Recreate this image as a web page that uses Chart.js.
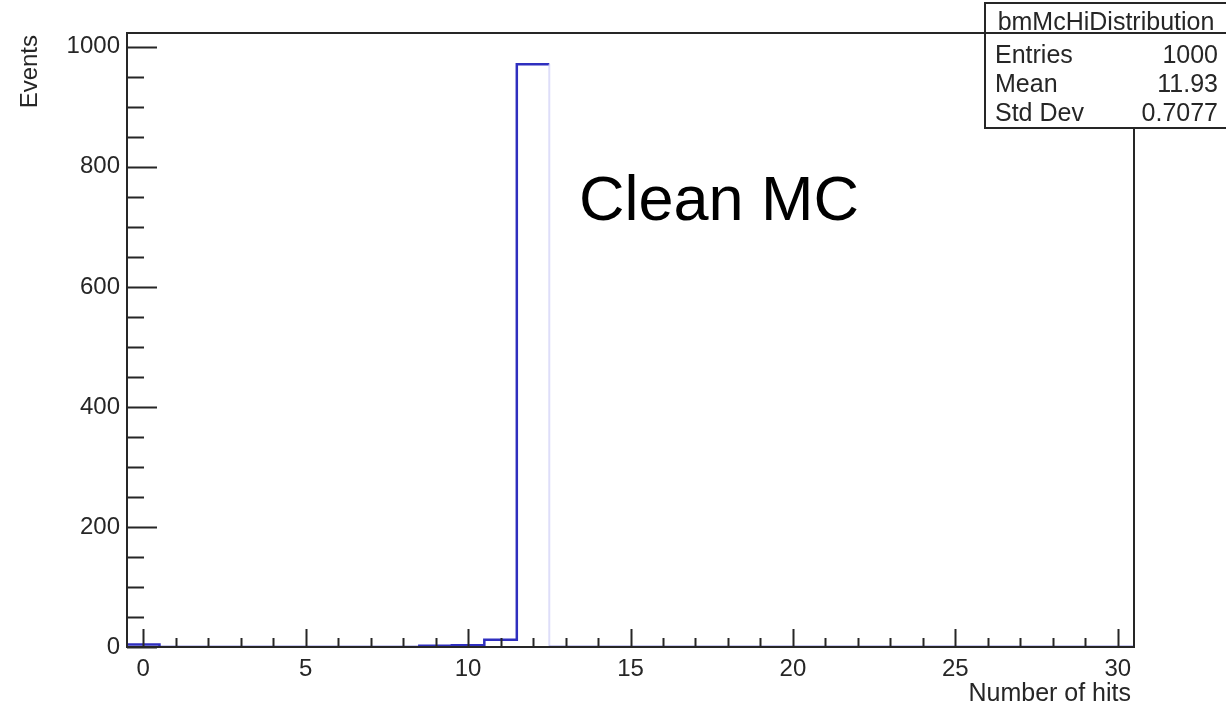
<!DOCTYPE html>
<html>
<head>
<meta charset="utf-8">
<script src="https://cdn.jsdelivr.net/npm/chart.js@4/dist/chart.umd.min.js"></script>
<style>
  html, body { margin: 0; padding: 0; background: #fff; }
  #wrap { width: 1226px; height: 701px; position: relative; }
</style>
</head>
<body>
<div id="wrap"><canvas id="c" width="1226" height="701"></canvas></div>
<script>
// Hit-multiplicity histogram: 31 unit-wide bins centred on 0..30 hits
const binCenters = [0, 1, 2, 3, 4, 5, 6, 7, 8, 9, 10, 11, 12, 13, 14, 15,
                    16, 17, 18, 19, 20, 21, 22, 23, 24, 25, 26, 27, 28, 29, 30];
const binCounts  = [4, 0, 0, 0, 0, 0, 0, 0, 0, 2, 3, 12, 971, 0, 0, 0,
                    0, 0, 0, 0, 0, 0, 0, 0, 0, 0, 0, 0, 0, 0, 0];
const xTickValues = [0, 5, 10, 15, 20, 25, 30];
const yTickValues = [0, 200, 400, 600, 800, 1000];
const yAxisMax = 1023;
const histName = 'bmMcHiDistribution';
const statLabels = ['Entries', 'Mean', 'Std Dev'];
const statValues = ['1000', '11.93', '0.7077'];
const xTitle = 'Number of hits';
const yTitle = 'Events';
const noteText = 'Clean MC';

const FONT = '"Liberation Sans", Arial, Helvetica, sans-serif';
const INK = '#262626';
const LINE_BLUE = '#2f2fbf';

const xMin = binCenters[0] - 0.5;
const xMax = binCenters[binCenters.length - 1] + 0.5;
const peak = Math.max(...binCounts);

// Step outline: each bin contributes its left and right edge at its height
const outline = [];
binCenters.forEach((c, i) => {
  outline.push({ x: c - 0.5, y: binCounts[i] });
  outline.push({ x: c + 0.5, y: binCounts[i] });
});

// true for the falling edge on the right of the tallest bin
const isPeakFall = ctx => ctx.p0.parsed.x === ctx.p1.parsed.x &&
                          ctx.p0.parsed.y === peak && ctx.p1.parsed.y < peak;

const rootStyle = {
  id: 'rootStyle',
  afterDatasetsDraw(chart) {
    const { ctx, chartArea: a, scales: { x, y } } = chart;
    ctx.save();
    ctx.strokeStyle = INK;
    ctx.lineWidth = 2;

    // inward ticks on the x axis: major every 5, minor every 1
    ctx.beginPath();
    for (let v = Math.ceil(xMin); v <= xMax; v += 1) {
      const px = Math.round(x.getPixelForValue(v)) + 0.5;
      const len = xTickValues.includes(v) ? 18 : 9;
      ctx.moveTo(px, a.bottom);
      ctx.lineTo(px, a.bottom - len);
    }
    // inward ticks on the y axis: major every 200, minor every 50
    for (let v = 0; v <= y.max; v += 50) {
      const py = Math.round(y.getPixelForValue(v)) + 0.5;
      const len = yTickValues.includes(v) ? 30 : 17;
      ctx.moveTo(a.left, py);
      ctx.lineTo(a.left + len, py);
    }
    ctx.stroke();

    // frame
    ctx.strokeRect(a.left, a.top, a.right - a.left, a.bottom - a.top);

    // axis titles
    ctx.fillStyle = INK;
    ctx.font = '25px ' + FONT;
    ctx.textBaseline = 'alphabetic';
    ctx.textAlign = 'right';
    ctx.fillText(xTitle, a.right - 3, 701);
    ctx.font = '24px ' + FONT;
    ctx.save();
    ctx.translate(37, a.top + 2);
    ctx.rotate(-Math.PI / 2);
    ctx.textAlign = 'right';
    ctx.fillText(yTitle, 0, 0);
    ctx.restore();

    // annotation
    ctx.fillStyle = '#000';
    ctx.font = '63px ' + FONT;
    ctx.textAlign = 'left';
    ctx.fillText(noteText, 579, 220);

    // statistics box
    const bx = 985, by = 3, bw = 245, bh = 125;
    ctx.fillStyle = '#fff';
    ctx.fillRect(bx, by, bw, bh);
    ctx.strokeStyle = INK;
    ctx.lineWidth = 2;
    ctx.strokeRect(bx, by, bw, bh);
    ctx.beginPath();
    ctx.moveTo(bx, a.top);
    ctx.lineTo(bx + bw, a.top);
    ctx.stroke();

    ctx.fillStyle = INK;
    ctx.font = '25px ' + FONT;
    ctx.textAlign = 'center';
    ctx.fillText(histName, 1106, 30);
    const rowBase = [63, 92, 121];
    statLabels.forEach((lab, i) => {
      ctx.textAlign = 'left';
      ctx.fillText(lab, 995, rowBase[i]);
      ctx.textAlign = 'right';
      ctx.fillText(statValues[i], 1218, rowBase[i]);
    });
    ctx.restore();
  }
};

new Chart(document.getElementById('c'), {
  type: 'line',
  data: {
    datasets: [{
      data: outline,
      borderColor: LINE_BLUE,
      borderWidth: 2.5,
      pointRadius: 0,
      pointHoverRadius: 0,
      tension: 0,
      fill: false,
      segment: {
        borderColor: ctx => isPeakFall(ctx) ? 'rgba(200, 200, 245, 0.6)' : undefined,
        borderWidth: ctx => isPeakFall(ctx) ? 2 : undefined
      }
    }]
  },
  options: {
    responsive: false,
    devicePixelRatio: 1,
    animation: false,
    events: [],
    layout: { padding: { left: 0, right: 92, top: 33, bottom: 0 } },
    plugins: { legend: { display: false }, tooltip: { enabled: false } },
    scales: {
      x: {
        type: 'linear',
        min: xMin,
        max: xMax,
        grid: { display: false, drawTicks: false },
        border: { display: false },
        afterBuildTicks: s => { s.ticks = xTickValues.map(v => ({ value: v })); },
        afterFit: s => { s.height = 54; },
        ticks: {
          padding: 8,
          maxRotation: 0,
          color: INK,
          font: { family: FONT, size: 24 },
          callback: v => String(v)
        }
      },
      y: {
        type: 'linear',
        min: 0,
        max: yAxisMax,
        grid: { display: false, drawTicks: false },
        border: { display: false },
        afterBuildTicks: s => { s.ticks = yTickValues.map(v => ({ value: v })); },
        afterFit: s => { s.width = 127; },
        ticks: {
          padding: 7,
          color: INK,
          font: { family: FONT, size: 24 },
          callback: v => String(v)
        }
      }
    }
  },
  plugins: [rootStyle]
});
</script>
</body>
</html>
